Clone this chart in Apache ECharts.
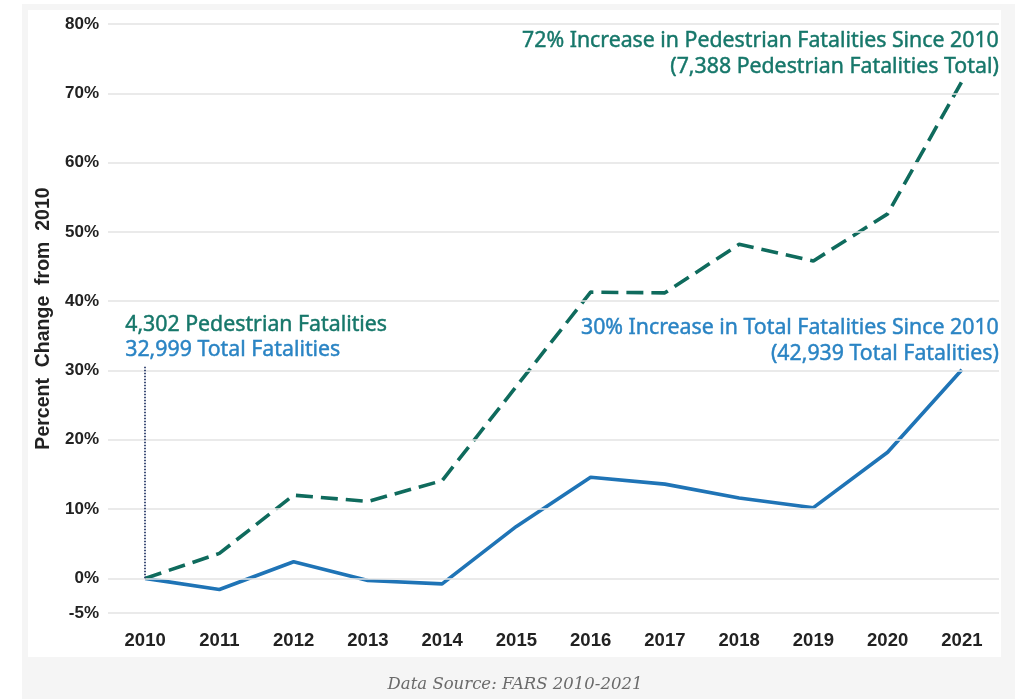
<!DOCTYPE html>
<html>
<head>
<meta charset="utf-8">
<script src="https://cdn.jsdelivr.net/npm/echarts@6/dist/echarts.min.js"></script>
<style>
    html, body { margin: 0; padding: 0; background: #ffffff; }
    #frame { position: absolute; left: 22px; top: 4px; width: 993px; height: 695px; background: #f5f5f5; }
    #panel { position: absolute; left: 28px; top: 10px; width: 973px; height: 647px; background: #ffffff; }
    #chart { position: absolute; left: 0; top: 0; width: 1015px; height: 699px; }
</style>
</head>
<body>
<div id="frame"></div>
<div id="panel"></div>
<div id="chart"></div>
<script>
    // years on the x axis
    const years = ['2010', '2011', '2012', '2013', '2014', '2015', '2016', '2017', '2018', '2019', '2020', '2021'];
    // percent change from 2010
    const pedestrianChange = [0, 3.6, 12.0, 11.1, 14.1, 27.7, 41.3, 41.2, 48.2, 45.8, 52.6, 71.7];
    const totalChange = [0, -1.6, 2.4, -0.3, -0.8, 7.5, 14.6, 13.6, 11.6, 10.2, 18.2, 30.1];
    // y ticks that get a label and a grid line
    const yTicks = [-5, 0, 10, 20, 30, 40, 50, 60, 70, 80];
    // dotted reference line at 2010
    const refTop = 30.7;

    const green = '#0f6b5d';
    const blue = '#1f74b6';
    const greenText = '#16776a';
    const blueText = '#2a84c4';
    const noteFont = '21.3px "Noto Sans"';

    // annotation text, slightly heavier than plain regular
    function note(pos, text, color) {
        return Object.assign({type: 'text'}, pos, {
            style: {text: text, fill: color, stroke: color, lineWidth: 0.45, font: noteFont}
        });
    }

    const chart = echarts.init(document.getElementById('chart'));

    const option = {
        backgroundColor: 'transparent',
        animation: false,
        title: {
            text: 'Data Source: FARS 2010-2021',
            left: 510,
            textAlign: 'center',
            top: 671,
            textStyle: {
                fontFamily: 'DejaVu Serif',
                fontStyle: 'italic',
                fontWeight: 'normal',
                fontSize: 16.5,
                color: '#6a6a6a'
            }
        },
        grid: {left: 108, right: 16, top: 24, bottom: 86},
        xAxis: {
            type: 'category',
            data: years,
            boundaryGap: true,
            axisLine: {show: false},
            axisTick: {show: false},
            axisLabel: {
                margin: 18,
                fontFamily: 'Liberation Sans',
                fontWeight: 'bold',
                fontSize: 18.5,
                color: '#222'
            }
        },
        yAxis: {
            type: 'value',
            min: -5,
            max: 80,
            interval: 5,
            name: 'Percent  Change  from  2010',
            nameLocation: 'middle',
            nameGap: 51,
            nameTextStyle: {
                fontFamily: 'Liberation Sans',
                fontWeight: 'bold',
                fontSize: 19.5,
                color: '#222'
            },
            axisLine: {show: false},
            axisTick: {show: false},
            splitLine: {show: false},
            axisLabel: {
                margin: 9,
                fontFamily: 'Liberation Sans',
                fontWeight: 'bold',
                fontSize: 17,
                color: '#222',
                formatter: function (v) {
                    return yTicks.indexOf(v) >= 0 ? v + '%' : '';
                }
            }
        },
        series: [
            {
                name: 'Total Fatalities',
                type: 'line',
                data: totalChange,
                showSymbol: false,
                z: 3,
                lineStyle: {color: blue, width: 3.6},
                markLine: {
                    silent: true,
                    symbol: 'none',
                    label: {show: false},
                    lineStyle: {color: '#e3e3e3', width: 1.5, type: 'solid'},
                    data: yTicks.map(function (t) { return {yAxis: t}; })
                }
            },
            {
                name: 'Pedestrian Fatalities',
                type: 'line',
                data: pedestrianChange,
                showSymbol: false,
                z: 4,
                lineStyle: {color: green, width: 3.6, type: [17, 8]},
                markLine: {
                    silent: true,
                    symbol: 'none',
                    label: {show: false},
                    lineStyle: {color: '#2c3d6b', width: 1.8, type: [1.5, 1.5]},
                    data: [[{xAxis: '2010', yAxis: 0}, {xAxis: '2010', yAxis: refTop}]]
                }
            }
        ],
        graphic: [
            note({left: 125, top: 314}, '4,302 Pedestrian Fatalities', greenText),
            note({left: 125, top: 339}, '32,999 Total Fatalities', blueText),
            note({right: 16, top: 30}, '72% Increase in Pedestrian Fatalities Since 2010', greenText),
            note({right: 16, top: 56}, '(7,388 Pedestrian Fatalities Total)', greenText),
            note({right: 16, top: 317}, '30% Increase in Total Fatalities Since 2010', blueText),
            note({right: 16, top: 343}, '(42,939 Total Fatalities)', blueText)
        ]
    };

    chart.setOption(option);
</script>
</body>
</html>
